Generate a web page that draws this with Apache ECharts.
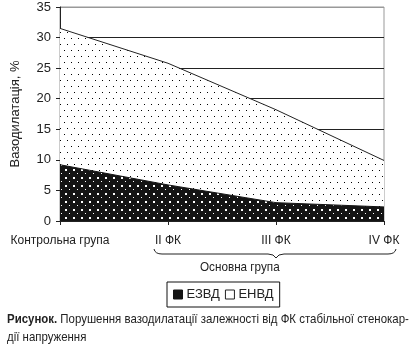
<!DOCTYPE html>
<html>
<head>
<meta charset="utf-8">
<script src="https://cdn.jsdelivr.net/npm/echarts@6/dist/echarts.min.js"></script>
<style>
    html, body { margin: 0; padding: 0; background: #fff; }
    #chart { width: 414px; height: 352px; }
</style>
</head>
<body>
<div id="chart"></div>
<script>
// data
var groups = ['Контрольна група', 'II ФК', 'III ФК', 'IV ФК'];
var ezvd = [9.2, 5.9, 3.0, 2.3];
var envd = [31.5, 25.8, 18.2, 9.9];
var yMin = 0, yMax = 35, yStep = 5;

var font = "'Liberation Sans', sans-serif";

// small dotted tiles for the area fills
function dots(w, h, bg, fg, pts) {
    var c = document.createElement('canvas');
    c.width = w; c.height = h;
    var ctx = c.getContext('2d');
    ctx.fillStyle = bg;
    ctx.fillRect(0, 0, w, h);
    ctx.fillStyle = fg;
    pts.forEach(function (p) { ctx.fillRect(p[0], p[1], p[2], p[2]); });
    return c;
}
var lightTile = dots(7, 12, '#fff', '#000', [[1, 2, 1], [4, 8, 1]]);
var darkTile = dots(8, 8, '#141414', '#fff', [[1, 1, 2], [5, 5, 1]]);

// the brace under II-IV FK
var braceStyle = { fill: null, stroke: '#222', lineWidth: 1 };
function curve(x1, y1, cx, cy, x2, y2) {
    return { type: 'bezierCurve', shape: { x1: x1, y1: y1, cpx1: cx, cpy1: cy, x2: x2, y2: y2 }, style: braceStyle };
}
function seg(x1, y1, x2, y2) {
    return { type: 'line', shape: { x1: x1, y1: y1, x2: x2, y2: y2 }, style: braceStyle };
}

var myChart = echarts.init(document.getElementById('chart'));
var option = {
    animation: false,
    textStyle: { fontFamily: font },
    grid: { left: 60, right: 30, top: 7, bottom: 131, show: true, borderColor: '#999', borderWidth: 1 },
    xAxis: {
        type: 'category',
        boundaryGap: false,
        data: groups,
        axisLine: { lineStyle: { color: '#222', width: 1 } },
        axisTick: { length: 4, interval: 0, lineStyle: { color: '#222' } },
        axisLabel: { color: '#222', fontSize: 12, margin: 14, interval: 0, fontFamily: font }
    },
    yAxis: {
        type: 'value',
        min: yMin,
        max: yMax,
        interval: yStep,
        name: 'Вазодилатація, %',
        nameLocation: 'middle',
        nameGap: 38,
        nameTextStyle: { color: '#222', fontSize: 13, fontFamily: font },
        axisLine: { show: true, lineStyle: { color: '#222', width: 1 } },
        axisTick: { show: true, length: 4, lineStyle: { color: '#222' } },
        axisLabel: { color: '#222', fontSize: 13, margin: 9, fontFamily: font },
        splitLine: { lineStyle: { color: ['#222', '#222', '#222', '#222', '#222', '#222', '#222', '#999'], width: 1 } }
    },
    legend: {
        left: 167,
        top: 282,
        padding: [6, 6],
        borderColor: '#111',
        borderWidth: 1,
        itemGap: 5,
        itemWidth: 9,
        itemHeight: 9,
        textStyle: { color: '#222', fontSize: 13, fontFamily: font, padding: [0, 0, 0, -1] },
        data: [
            { name: 'ЕЗВД', icon: 'rect', itemStyle: { color: '#141414', borderColor: '#141414', borderWidth: 1 } },
            { name: 'ЕНВД', icon: 'rect', itemStyle: { color: '#fff', borderColor: '#222', borderWidth: 1 } }
        ]
    },
    series: [
        {
            name: 'ЕНВД',
            type: 'line',
            data: envd,
            symbol: 'none',
            lineStyle: { color: '#222', width: 1 },
            itemStyle: { color: '#fff' },
            areaStyle: { color: { image: lightTile, repeat: 'repeat' }, opacity: 1 },
            z: 2
        },
        {
            name: 'ЕЗВД',
            type: 'line',
            data: ezvd,
            symbol: 'none',
            lineStyle: { color: '#141414', width: 1 },
            itemStyle: { color: '#141414' },
            areaStyle: { color: { image: darkTile, repeat: 'repeat' }, opacity: 1 },
            z: 3
        }
    ],
    graphic: [
        curve(154, 249, 155, 254, 162, 254),
        seg(162, 254, 268, 254),
        curve(268, 254, 274, 254, 276, 258),
        curve(276, 258, 278, 254, 284, 254),
        seg(284, 254, 388, 254),
        curve(388, 254, 395, 254, 396, 249),
        {
            type: 'text',
            x: 200,
            y: 261,
            scaleX: 0.9,
            style: { text: 'Основна група', fill: '#222', font: '13px ' + font }
        },
        {
            type: 'text',
            x: 7,
            y: 310,
            scaleX: 0.88,
            style: {
                text: '{b|Рисунок.} Порушення вазодилатації залежності від ФК стабільної стенокар-\nдії напруження',
                fill: '#222',
                font: '13px ' + font,
                lineHeight: 18,
                rich: { b: { fontWeight: 'bold', fontSize: 13, fontFamily: font, fill: '#222' } }
            }
        }
    ]
};
myChart.setOption(option);
</script>
</body>
</html>
